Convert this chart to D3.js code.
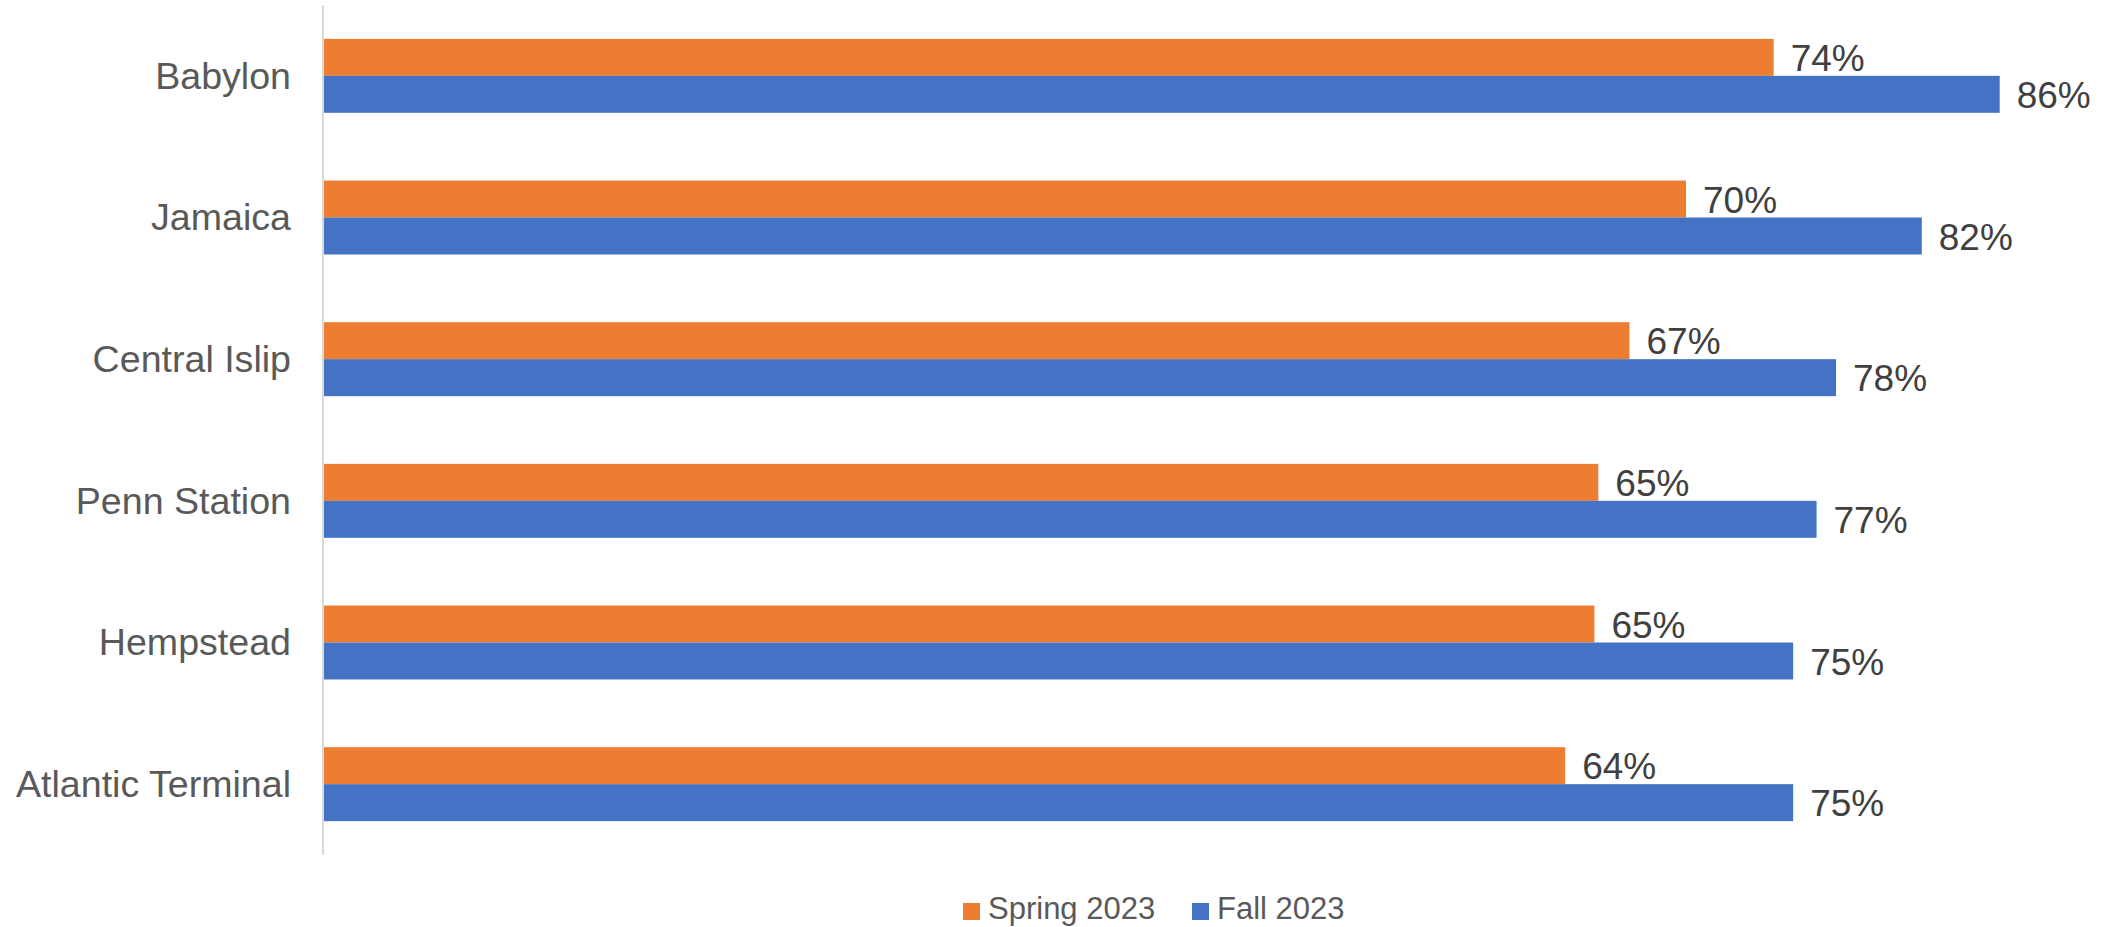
<!DOCTYPE html>
<html>
<head>
<meta charset="utf-8">
<script src="https://cdn.jsdelivr.net/npm/d3@7"></script>
<style>
  html, body { margin: 0; padding: 0; background: #ffffff; }
  svg { display: block; font-family: "Liberation Sans", Arial, sans-serif; }
</style>
</head>
<body>
<svg id="chart" width="2108" height="927"></svg>
<script>
const categories = ["Babylon", "Jamaica", "Central Islip", "Penn Station", "Hempstead", "Atlantic Terminal"];
const seriesNames = ["Spring 2023", "Fall 2023"];
const spring2023 = [0.744, 0.699, 0.670, 0.654, 0.652, 0.637];
const fall2023 = [0.860, 0.820, 0.776, 0.766, 0.754, 0.754];
const seriesColors = ["#ED7D31", "#4472C4"];

const svg = d3.select("#chart");
const x0 = 324;
const x = d3.scaleLinear().domain([0, 1]).range([x0, x0 + 1948.5]);
const y = d3.scaleBand().domain(categories).range([5, 855]).paddingInner(0.478).paddingOuter(0.239);
const ySub = d3.scaleBand().domain(seriesNames).range([0, y.bandwidth()]);

const series = [spring2023, fall2023];
const fmt = d3.format(".0%");

// axis line
svg.append("line")
  .attr("x1", 323).attr("x2", 323)
  .attr("y1", 5).attr("y2", 855)
  .attr("stroke", "#d9d9d9").attr("stroke-width", 2);

// category labels
const yAxis = d3.axisLeft(y).tickSize(0).tickPadding(0);
const ga = svg.append("g").attr("transform", "translate(291,0)").call(yAxis);
ga.select(".domain").remove();
ga.selectAll("text")
  .attr("font-size", 37.6)
  .attr("fill", "#595959")
  .attr("font-family", "'Liberation Sans', Arial, sans-serif")
  .attr("dy", "0.34em");

series.forEach((vals, si) => {
  const g = svg.append("g");
  g.selectAll("rect").data(categories).join("rect")
    .attr("x", x(0))
    .attr("y", (c) => y(c) + ySub(seriesNames[si]))
    .attr("width", (c, i) => x(vals[i]) - x(0))
    .attr("height", ySub.bandwidth())
    .attr("fill", seriesColors[si]);
  g.selectAll("text").data(categories).join("text")
    .attr("x", (c, i) => x(vals[i]) + 17)
    .attr("y", (c) => y(c) + ySub(seriesNames[si]) + ySub.bandwidth() / 2)
    .attr("dy", "0.37em")
    .attr("font-size", 37)
    .attr("fill", "#404040")
    .text((c, i) => fmt(vals[i]));
});

// legend
const legendItems = [
  { name: seriesNames[0], color: seriesColors[0], x: 963 },
  { name: seriesNames[1], color: seriesColors[1], x: 1192 }
];
const lg = svg.append("g");
legendItems.forEach((d) => {
  lg.append("rect").attr("x", d.x).attr("y", 903).attr("width", 17).attr("height", 17).attr("fill", d.color);
  lg.append("text").attr("x", d.x + 25).attr("y", 919)
    .attr("font-size", 31).attr("fill", "#595959").text(d.name);
});
</script>
</body>
</html>
